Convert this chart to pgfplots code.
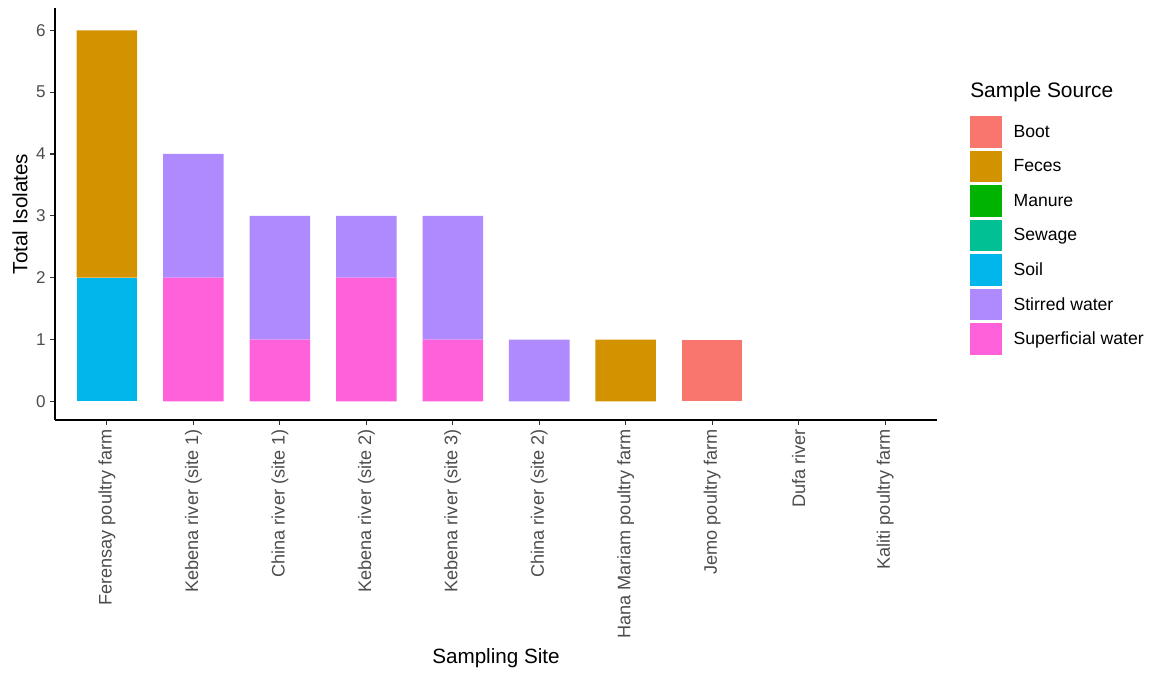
\documentclass[border=0pt]{standalone}
\usepackage{fontspec}
\setmainfont{Liberation Sans}
\usepackage{pgfplots}
\pgfplotsset{compat=1.18}
\definecolor{cBoot}{HTML}{F8766D}
\definecolor{cFeces}{HTML}{D39200}
\definecolor{cManure}{HTML}{00B300}
\definecolor{cSewage}{HTML}{00C094}
\definecolor{cSoil}{HTML}{00B6EB}
\definecolor{cStirred}{HTML}{AF8AFF}
\definecolor{cSuper}{HTML}{FF61DB}
\definecolor{tickgray}{HTML}{4D4D4D}
\begin{document}
\begin{tikzpicture}
\begin{axis}[
  scale only axis,
  width=661.5pt, height=309pt,
  ybar stacked,
  bar width=0.7,
  xmin=-0.6, xmax=9.6,
  ymin=-0.3, ymax=6.36,
  axis x line*=bottom, axis y line*=left,
  axis line style={line width=0.8pt, black},
  xtick={0,...,9},
  xticklabels={Ferensay poultry farm,Kebena river (site 1),China river (site 1),Kebena river (site 2),Kebena river (site 3),China river (site 2),Hana Mariam poultry farm,Jemo poultry farm,Dufa river,Kaliti poultry farm},
  x tick label style={rotate=90, anchor=east, font=\fontsize{13.6}{15}\selectfont, text=tickgray},
  ytick={0,...,6},
  y tick label style={font=\fontsize{12.8}{14}\selectfont, text=tickgray},
  /pgf/number format/assume math mode=true,
  tick style={line width=0.8pt, black!80},
  major tick length=3.5pt,
  tick align=outside,
  xlabel={Sampling Site},
  ylabel={Total Isolates},
  xlabel style={at={(rel axis cs:0.5,-0.5777)}, anchor=center, font=\fontsize{15.5}{18}\selectfont},
  ylabel style={at={(rel axis cs:-0.0397,0.5)}, anchor=center, font=\fontsize{15.5}{18}\selectfont},
  clip=false,
  reverse legend,
  legend image code/.code={\fill[#1,draw=none] (0pt,-11.8pt) rectangle (23.5pt,11.8pt);},
  legend style={at={(rel axis cs:1.0374,0.7379)}, anchor=north west, draw=none, fill=none,
    font=\fontsize{13.2}{15}\selectfont, row sep=2.3pt, inner sep=0pt,
    nodes={inner sep=0pt, anchor=west},
    /tikz/every even column/.append style={column sep=0pt}},
  legend cell align=left,
]
\addplot[fill=cSuper, draw=none] coordinates {(0,0) (1,2) (2,1) (3,2) (4,1) (5,0) (6,0) (7,0) (8,0) (9,0)};
\addplot[fill=cStirred, draw=none] coordinates {(0,0) (1,2) (2,2) (3,1) (4,2) (5,1) (6,0) (7,0) (8,0) (9,0)};
\addplot[fill=cSoil, draw=none] coordinates {(0,2) (1,0) (2,0) (3,0) (4,0) (5,0) (6,0) (7,0) (8,0) (9,0)};
\addplot[fill=cSewage, draw=none] coordinates {(0,0) (1,0) (2,0) (3,0) (4,0) (5,0) (6,0) (7,0) (8,0) (9,0)};
\addplot[fill=cManure, draw=none] coordinates {(0,0) (1,0) (2,0) (3,0) (4,0) (5,0) (6,0) (7,0) (8,0) (9,0)};
\addplot[fill=cFeces, draw=none] coordinates {(0,4) (1,0) (2,0) (3,0) (4,0) (5,0) (6,1) (7,0) (8,0) (9,0)};
\addplot[fill=cBoot, draw=none] coordinates {(0,0) (1,0) (2,0) (3,0) (4,0) (5,0) (6,0) (7,1) (8,0) (9,0)};
\legend{\hspace{9pt}Superficial water,\hspace{9pt}Stirred water,\hspace{9pt}Soil,\hspace{9pt}Sewage,\hspace{9pt}Manure,\hspace{9pt}Feces,\hspace{9pt}Boot}
\node[anchor=west, inner sep=0pt, font=\fontsize{15.7}{18}\selectfont] at (rel axis cs:1.0374,0.796) {Sample Source};
\coordinate (bl) at (rel axis cs:-0.0624,-0.6286);
\coordinate (tr) at (rel axis cs:1.2449,1.0194);
\end{axis}
\pgfresetboundingbox
\path (bl) rectangle (tr);
\end{tikzpicture}
\end{document}
